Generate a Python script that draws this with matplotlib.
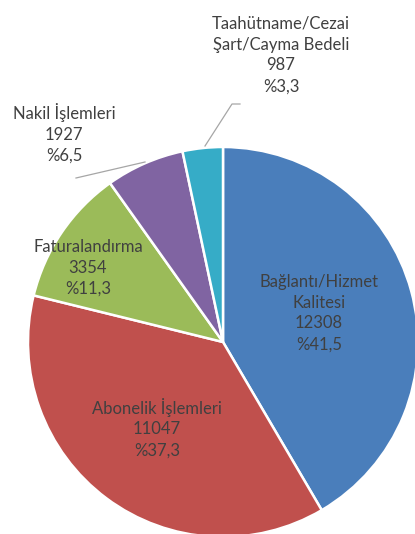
import matplotlib.pyplot as plt

categories = ['Bağlantı/Hizmet\nKalitesi', 'Abonelik İşlemleri', 'Faturalandırma',
              'Nakil İşlemleri', 'Taahütname/Cezai\nŞart/Cayma Bedeli']
counts = [12308, 11047, 3354, 1927, 987]
shares = ['41,5', '37,3', '11,3', '6,5', '3,3']
colors = ['#4A7EBB', '#C0504D', '#9BBB59', '#8064A2', '#36ACC7']

# label centres in pixel coordinates (y measured from top)
label_pos = [(319, 313), (157, 428), (88, 268), (64, 133), (281, 55)]

W, H = 415, 534
fig = plt.figure(figsize=(W / 100, H / 100), dpi=100)
ax = fig.add_axes([0, 0, 1, 1])
ax.set_xlim(0, W)
ax.set_ylim(0, H)
ax.set_aspect('equal')
ax.axis('off')

cx, cy, r = 223, H - 342, 195
ax.pie(counts, colors=colors, startangle=90, counterclock=False,
       center=(cx, cy), radius=r, frame=True,
       wedgeprops=dict(edgecolor='white', linewidth=1.8))
ax.set_xlim(0, W)
ax.set_ylim(0, H)
ax.axis('off')

for cat, n, s, (x, y) in zip(categories, counts, shares, label_pos):
    ax.text(x, H - y, f'{cat}\n{n}\n%{s}', ha='center', va='center',
            fontsize=12, family='Lato', color='#404040', linespacing=1.38)

# leader lines
ax.plot([205, 232, 240], [H - 146, H - 104, H - 104], color='#A6A6A6', lw=0.9)
ax.plot([145, 76], [H - 162, H - 178], color='#A6A6A6', lw=0.9)

fig.savefig('out.png', dpi=100)
